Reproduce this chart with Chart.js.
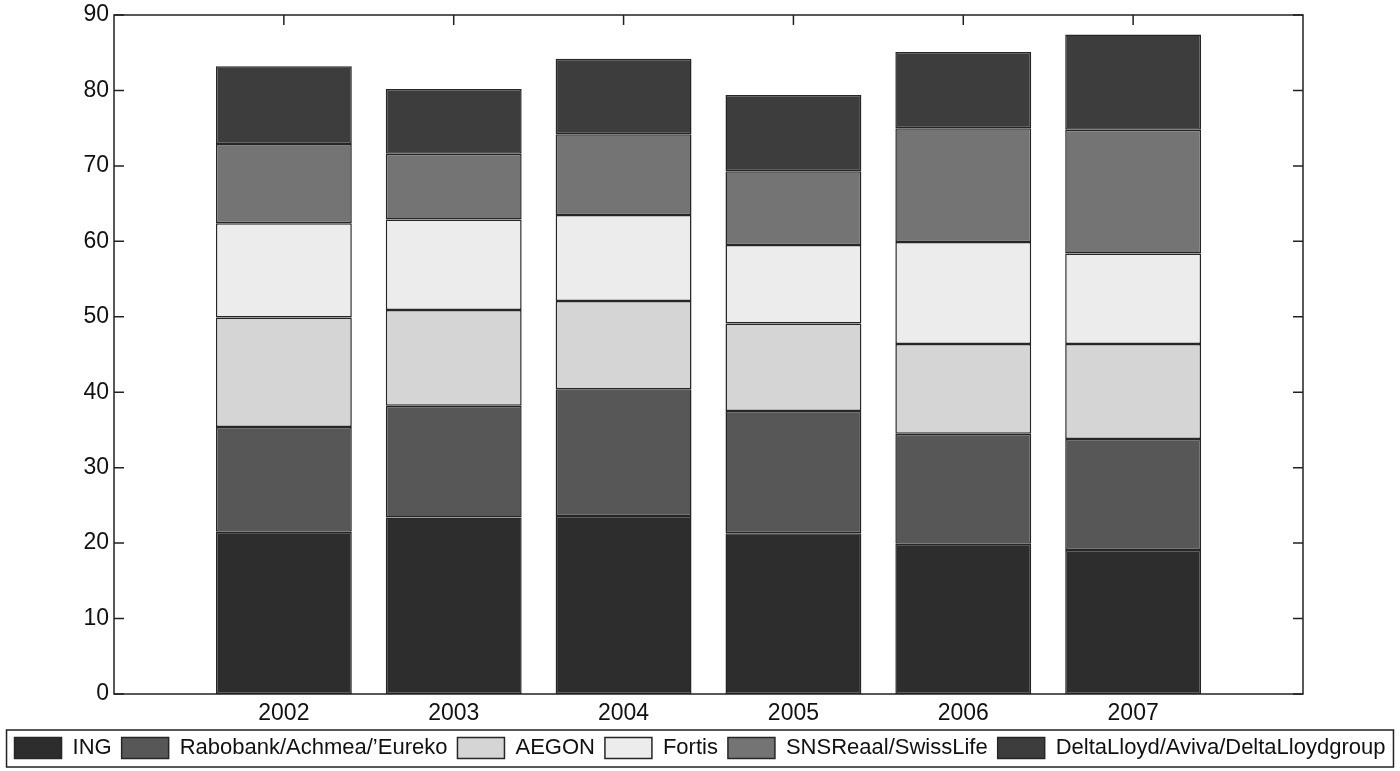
<!DOCTYPE html>
<html>
<head>
<meta charset="utf-8">
<script src="https://cdn.jsdelivr.net/npm/chart.js@4.4.1/dist/chart.umd.min.js"></script>
<style>
body{margin:0;background:#fff;}
#wrap{width:1400px;height:771px;}
</style>
</head>
<body>
<div id="wrap"><canvas id="chart"></canvas></div>
<script>
// market share per year, stacked
const years=[2002,2003,2004,2005,2006,2007];
const ing=[21.5,23.4,23.6,21.3,19.9,19.1];
const rabobank=[13.9,14.8,16.8,16.2,14.6,14.7];
const aegon=[14.5,12.7,11.7,11.6,11.9,12.6];
const fortis=[12.5,12.0,11.4,10.4,13.5,12.0];
const sns=[10.5,8.7,10.7,9.8,15.1,16.4];
const delta=[10.3,8.6,10.0,10.1,10.1,12.6];

const font='"Liberation Sans", Arial, sans-serif';
const pts=arr=>arr.map((v,i)=>({x:years[i],y:v}));

function ds(label,data,color){
return {label:label,data:pts(data),backgroundColor:color,borderColor:'#262626',borderWidth:1.5,borderSkipped:false,categoryPercentage:1,barPercentage:0.8};
}

// axis box, inward ticks and legend frame
const frame={
id:'frame',
afterDatasetsDraw(c){
const ctx=c.ctx,a=c.chartArea,s=c.scales;
ctx.save();
ctx.strokeStyle='#222';ctx.lineWidth=1.5;
ctx.strokeRect(a.left,a.top,a.right-a.left,a.bottom-a.top);
ctx.beginPath();
s.y.ticks.forEach(t=>{
const y=s.y.getPixelForValue(t.value);
ctx.moveTo(a.left,y);ctx.lineTo(a.left+10,y);
ctx.moveTo(a.right,y);ctx.lineTo(a.right-10,y);
});
years.forEach(v=>{
const x=s.x.getPixelForValue(v);
ctx.moveTo(x,a.top);ctx.lineTo(x,a.top+10);
});
ctx.stroke();
ctx.restore();
},
afterDraw(c){
const L=c.legend,hb=L.legendHitBoxes;
if(!hb||!hb.length)return;
const l=Math.min(...hb.map(h=>h.left))-8;
const r=Math.max(...hb.map(h=>h.left+h.width))+8;
const ctx=c.ctx;
ctx.save();
ctx.strokeStyle='#222';ctx.lineWidth=1.5;
ctx.strokeRect(l,L.top+3,r-l,L.bottom-L.top-5);
ctx.restore();
}
};

const chart=new Chart(document.getElementById('chart'),{
type:'bar',
data:{datasets:[
ds('ING',ing,'#2d2d2d'),
ds('Rabobank/Achmea/\u2019Eureko',rabobank,'#575757'),
ds('AEGON',aegon,'#d5d5d5'),
ds('Fortis',fortis,'#ececec'),
ds('SNSReaal/SwissLife',sns,'#747474'),
ds('DeltaLloyd/Aviva/DeltaLloydgroup',delta,'#3d3d3d')
]},
options:{
responsive:true,maintainAspectRatio:false,animation:false,
layout:{padding:{top:15,bottom:2,left:0,right:0}},
plugins:{
tooltip:{enabled:false},
legend:{position:'bottom',labels:{boxWidth:47,boxHeight:21,padding:10,color:'#111',font:{size:22,family:font}}}
},
scales:{
x:{type:'linear',min:2001,max:2008,stacked:true,offset:false,
grid:{display:false,drawTicks:false},border:{display:false},
ticks:{stepSize:1,padding:6,color:'#111',font:{size:23,family:font},autoSkip:false,maxRotation:0,
callback:v=>years.includes(v)?String(v):''},
afterFit:s=>{s.height=33;}},
y:{min:0,max:90,stacked:true,
grid:{display:false,drawTicks:false},border:{display:false},
ticks:{stepSize:10,padding:5,color:'#111',font:{size:23,family:font}},
afterFit:s=>{s.width=114;s.paddingTop=0;s.paddingBottom=0;}},
yr:{position:'right',
grid:{display:false,drawTicks:false},border:{display:false},
ticks:{display:false},
afterFit:s=>{s.width=97;s.paddingTop=0;s.paddingBottom=0;}}
}
},
plugins:[frame]
});
</script>
</body>
</html>
